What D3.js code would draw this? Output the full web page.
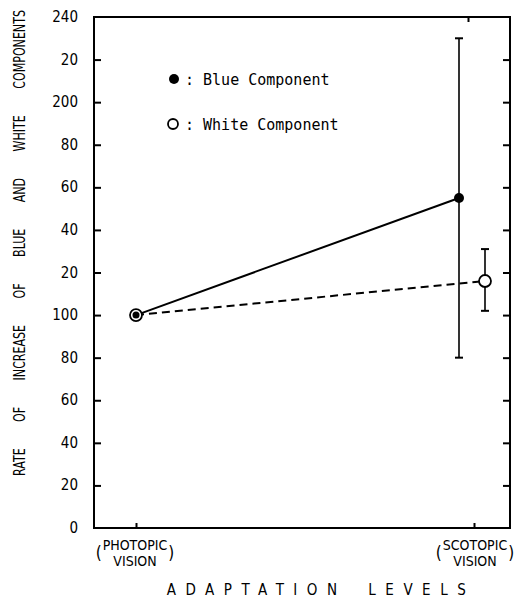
<!DOCTYPE html>
<html><head><meta charset="utf-8">
<script src="https://cdn.jsdelivr.net/npm/d3@7"></script>
<style>body{margin:0;background:#fff}svg{display:block}</style>
</head><body><svg id="c" width="518" height="600"></svg>
<script>
const categories = ["PHOTOPIC", "SCOTOPIC"];
const yTickValues = [0,20,40,60,80,100,120,140,160,180,200,220,240];
const yTickLabels = ["0","20","40","60","80","100","20","40","60","80","200","20","240"];
const blueValues = [100, 155];
const blueErrLow = [null, 80];
const blueErrHigh = [null, 230];
const whiteValues = [100, 116];
const whiteErrLow = [null, 102];
const whiteErrHigh = [null, 131];
const legendLabels = [": Blue Component", ": White Component"];
const yTitle = "RATE OF INCREASE OF BLUE AND WHITE COMPONENTS";
const xTitle = "ADAPTATION LEVELS";

const svg = d3.select("#c");
const L = 94, R = 510, T = 17, B = 528;
const y = d3.scaleLinear().domain([0,240]).range([B,T]);
const x = d3.scaleLinear().domain([0,1]).range([136,474]);
const offBlue = [0,-15], offWhite = [0,11];
const mono = "'DejaVu Sans Mono', monospace";
const cond = "'DejaVu Sans Condensed', 'DejaVu Sans', sans-serif";

// frame
svg.append("rect").attr("x",L).attr("y",T).attr("width",R-L).attr("height",B-T)
  .attr("fill","none").attr("stroke","#000").attr("stroke-width",2);

// left axis ticks inward
const ya = svg.append("g").attr("transform",`translate(${L},0)`)
  .call(d3.axisRight(y).tickValues(yTickValues.slice(1,-1)).tickSize(7).tickFormat(""));
ya.select(".domain").remove();
ya.selectAll("line").attr("stroke-width",2);
// right axis ticks inward
const yr = svg.append("g").attr("transform",`translate(${R},0)`)
  .call(d3.axisLeft(y).tickValues(yTickValues.slice(1,-1)).tickSize(7).tickFormat(""));
yr.select(".domain").remove();
yr.selectAll("line").attr("stroke-width",2);
// labels
svg.append("g").selectAll("text").data(yTickValues).join("text")
  .attr("x",78).attr("y",d=>y(d)+5).attr("text-anchor","end")
  .attr("font-family",cond).attr("font-size",15)
  .text((d,i)=>yTickLabels[i]);

// bottom/top ticks
const xb = svg.append("g").attr("transform",`translate(0,${B})`)
  .call(d3.axisTop(x).tickValues([0,1]).tickSize(5).tickFormat(""));
xb.select(".domain").remove(); xb.selectAll("line").attr("stroke-width",2);
const xt = svg.append("g")
  .call(d3.axisBottom(x).tickValues([1]).tickSize(5).tickFormat("")).attr("transform",`translate(-6,${T})`);
xt.select(".domain").remove(); xt.selectAll("line").attr("stroke-width",2);

// category labels
const catCenters = [135, 475];
categories.forEach((c,i)=>{
  const cx = catCenters[i];
  const g = svg.append("g").attr("font-family",cond).attr("font-size",14);
  const t = g.append("text").attr("x",cx).attr("y",550).attr("text-anchor","middle").text(c);
  g.append("text").attr("x",cx).attr("y",566).attr("text-anchor","middle").text("VISION");
  const w = t.node().getComputedTextLength();
  g.append("text").attr("x",cx-w/2-1).attr("y",559).attr("text-anchor","end").attr("font-size",17).text("(");
  g.append("text").attr("x",cx+w/2+1).attr("y",559).attr("text-anchor","start").attr("font-size",17).text(")");
});

// lines
const line = d3.line().x(d=>d[0]).y(d=>d[1]);
svg.append("path").attr("d",line(blueValues.map((v,i)=>[x(i)+offBlue[i],y(v)])))
  .attr("fill","none").attr("stroke","#000").attr("stroke-width",2);
svg.append("path").attr("d",line(whiteValues.map((v,i)=>[x(i)+offWhite[i],y(v)])))
  .attr("fill","none").attr("stroke","#000").attr("stroke-width",2).attr("stroke-dasharray","8,5");

// error bars
function err(vals, lo, hi, off){
  vals.forEach((v,i)=>{
    if(lo[i]==null) return;
    const cx = x(i)+off[i];
    svg.append("line").attr("x1",cx).attr("x2",cx).attr("y1",y(lo[i])).attr("y2",y(hi[i])).attr("stroke","#000").attr("stroke-width",1.6);
    [lo[i],hi[i]].forEach(e=>svg.append("line").attr("x1",cx-4).attr("x2",cx+4).attr("y1",y(e)).attr("y2",y(e)).attr("stroke","#000").attr("stroke-width",2));
  });
}
err(blueValues,blueErrLow,blueErrHigh,offBlue);
err(whiteValues,whiteErrLow,whiteErrHigh,offWhite);

// markers
whiteValues.forEach((v,i)=>svg.append("circle").attr("cx",x(i)+offWhite[i]).attr("cy",y(v)).attr("r",6)
  .attr("fill","#fff").attr("stroke","#000").attr("stroke-width",1.8));
blueValues.forEach((v,i)=>svg.append("circle").attr("cx",x(i)+offBlue[i]).attr("cy",y(v)).attr("r",i===0?3.5:5).attr("fill","#000"));

// legend
svg.append("circle").attr("cx",174).attr("cy",79).attr("r",5).attr("fill","#000");
svg.append("circle").attr("cx",173).attr("cy",124).attr("r",5).attr("fill","#fff").attr("stroke","#000").attr("stroke-width",1.8);
svg.append("text").attr("x",185).attr("y",85).attr("font-family",mono).attr("font-size",15).text(legendLabels[0]);
svg.append("text").attr("x",185).attr("y",130).attr("font-family",mono).attr("font-size",15).text(legendLabels[1]);

// axis titles
svg.append("text").attr("transform","translate(25,243) rotate(-90) scale(0.82,1)").attr("text-anchor","middle")
  .attr("font-family",cond).attr("font-size",15).attr("word-spacing",28).text(yTitle);
svg.append("text").attr("x",321).attr("y",595).attr("text-anchor","middle")
  .attr("font-family",cond).attr("font-size",15).attr("letter-spacing",9.5).attr("word-spacing",8).text(xTitle);
</script></body></html>
